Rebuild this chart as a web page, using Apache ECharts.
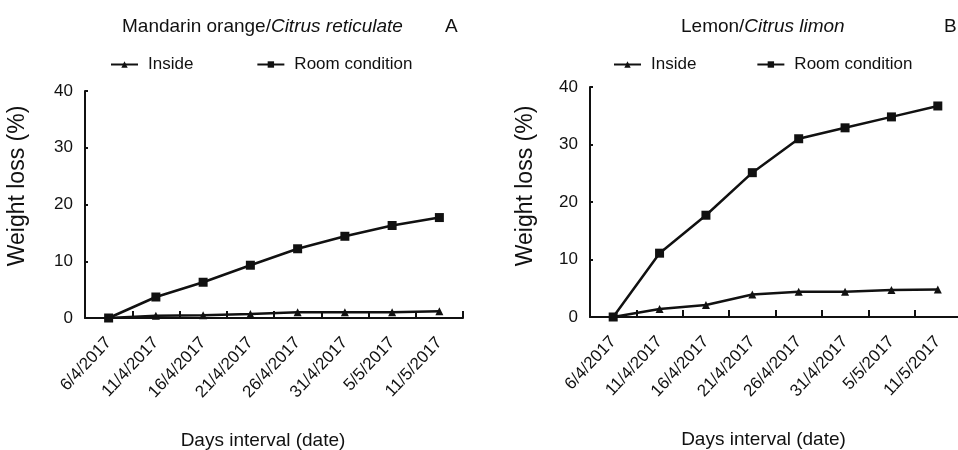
<!DOCTYPE html>
<html>
<head>
<meta charset="utf-8">
<script src="https://cdn.jsdelivr.net/npm/echarts@6/dist/echarts.min.js"></script>
<style>
  html, body { margin: 0; padding: 0; background: #fff; }
  #chart { width: 958px; height: 450px; }
</style>
</head>
<body>
<div id="chart"></div>
<script>
// Sampling dates (shared by both panels)
const dates = ['6/4/2017', '11/4/2017', '16/4/2017', '21/4/2017', '26/4/2017', '31/4/2017', '5/5/2017', '11/5/2017'];

// Panel A: mandarin orange, weight loss (%)
const mandarinInside = [0, 0.4, 0.5, 0.7, 1.0, 1.0, 1.0, 1.2];
const mandarinRoom = [0, 3.7, 6.3, 9.3, 12.2, 14.4, 16.3, 17.7];

// Panel B: lemon, weight loss (%)
const lemonInside = [0, 1.4, 2.1, 3.9, 4.4, 4.4, 4.7, 4.8];
const lemonRoom = [0, 11.1, 17.7, 25.1, 31.0, 32.9, 34.8, 36.7];

const yTicks = { min: 0, max: 40, interval: 10 };

const FONT = '"Liberation Sans", Arial, sans-serif';
const INK = '#111';

function xAxisFor(gridIndex, nameShift) {
  return {
    type: 'category',
    gridIndex,
    data: dates,
    boundaryGap: true,
    name: 'Days interval (date)',
    nameLocation: 'middle',
    nameGap: 113,
    nameTextStyle: { fontFamily: FONT, fontSize: 19, color: INK, padding: [0, nameShift, 0, 0] },
    axisLine: { show: true, lineStyle: { color: INK, width: 2 } },
    axisTick: { show: true, inside: true, length: 7, alignWithLabel: false, lineStyle: { color: INK, width: 2 } },
    axisLabel: { rotate: 47, margin: 22, fontFamily: FONT, fontSize: 17, color: INK, interval: 0 },
    splitLine: { show: false }
  };
}

function yAxisFor(gridIndex) {
  return {
    type: 'value',
    gridIndex,
    min: yTicks.min,
    max: yTicks.max,
    interval: yTicks.interval,
    axisLine: { show: true, lineStyle: { color: INK, width: 2 } },
    axisTick: { show: true, inside: true, length: 3, lineStyle: { color: INK, width: 2 } },
    axisLabel: { margin: 12, fontFamily: FONT, fontSize: 17, color: INK },
    splitLine: { show: false }
  };
}

function lineSeries(name, data, idx, symbol, size) {
  return {
    type: 'line',
    name,
    data,
    xAxisIndex: idx,
    yAxisIndex: idx,
    symbol,
    symbolSize: size,
    showAllSymbol: true,
    lineStyle: { color: INK, width: 2.5 },
    itemStyle: { color: INK },
    emphasis: { disabled: true },
    animation: false,
    z: symbol === 'rect' ? 3 : 4
  };
}

function legendAt(left, gap) {
  return {
    left, top: 51,
    itemWidth: 27, itemHeight: 8, itemGap: gap,
    data: ['Inside', 'Room condition'],
    textStyle: { fontFamily: FONT, fontSize: 17, color: INK, padding: [0, 0, 0, 5] },
    selectedMode: false
  };
}

const titleRich = {
  n: { fontFamily: FONT, fontSize: 19, fontWeight: 'normal', color: INK },
  i: { fontFamily: FONT, fontSize: 19, fontWeight: 'normal', fontStyle: 'italic', color: INK }
};

const chart = echarts.init(document.getElementById('chart'), null, { renderer: 'canvas' });

chart.setOption({
  backgroundColor: '#fff',
  animation: false,
  title: [
    {
      text: '{n|Mandarin orange/}{i|Citrus reticulate}',
      left: 117, top: 12,
      textStyle: { fontWeight: 'normal', rich: titleRich }
    },
    { text: 'A', left: 440, top: 12, textStyle: { fontFamily: FONT, fontSize: 19, fontWeight: 'normal', color: INK } },
    {
      text: '{n|Lemon/}{i|Citrus limon}',
      left: 676, top: 12,
      textStyle: { fontWeight: 'normal', rich: titleRich }
    },
    { text: 'B', left: 939, top: 12, textStyle: { fontFamily: FONT, fontSize: 19, fontWeight: 'normal', color: INK } }
  ],
  legend: [legendAt(105, 63), legendAt(608, 60)],
  grid: [
    { left: 85, top: 91, width: 378, height: 227, outerBoundsMode: 'none', containLabel: false },
    { left: 590, top: 87, width: 371, height: 230, outerBoundsMode: 'none', containLabel: false }
  ],
  xAxis: [xAxisFor(0, 22), xAxisFor(1, 24)],
  yAxis: [yAxisFor(0), yAxisFor(1)],
  series: [
    lineSeries('Inside', mandarinInside, 0, 'triangle', 8),
    lineSeries('Room condition', mandarinRoom, 0, 'rect', 9),
    lineSeries('Inside', lemonInside, 1, 'triangle', 8),
    lineSeries('Room condition', lemonRoom, 1, 'rect', 9)
  ],
  graphic: [
    {
      type: 'text', x: 18, y: 186, rotation: Math.PI / 2,
      style: { text: 'Weight loss (%)', font: '23px "Liberation Sans", Arial, sans-serif', fill: INK, align: 'center', verticalAlign: 'middle' }
    },
    {
      type: 'text', x: 526, y: 186, rotation: Math.PI / 2,
      style: { text: 'Weight loss (%)', font: '23px "Liberation Sans", Arial, sans-serif', fill: INK, align: 'center', verticalAlign: 'middle' }
    }
  ]
});
</script>
</body>
</html>
